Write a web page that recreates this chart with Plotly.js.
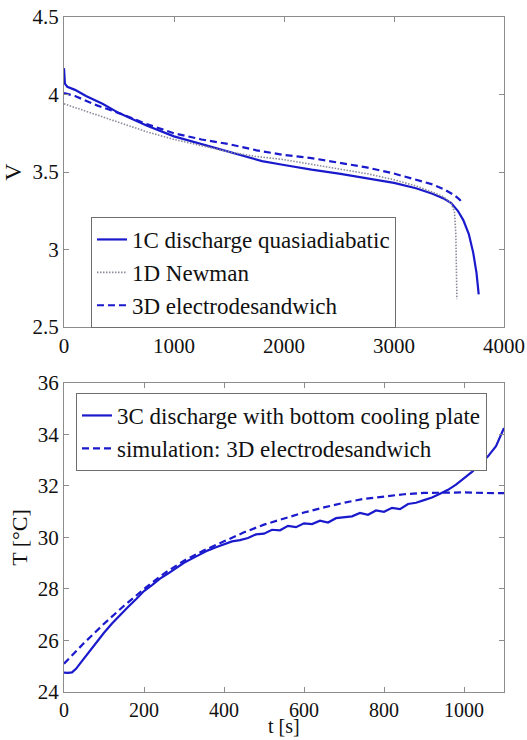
<!DOCTYPE html>
<html><head><meta charset="utf-8">
<script src="https://cdn.plot.ly/plotly-3.0.1.min.js"></script>
<style>
html,body{margin:0;padding:0;background:#fff}
#chart{width:527px;height:740px}
</style>
</head><body><div id="chart"></div>
<script>
// Top panel: voltage vs time (1C discharge)
const tExp1C = [0, 8, 30, 100, 200, 350, 500, 750, 1000, 1250, 1500, 1800, 2000, 2250, 2500, 2750, 3000, 3200, 3350, 3450, 3520, 3580, 3630, 3680, 3720, 3750, 3770];
const vExp1C = [4.17, 4.07, 4.05, 4.03, 3.99, 3.94, 3.88, 3.80, 3.73, 3.68, 3.63, 3.57, 3.545, 3.515, 3.49, 3.46, 3.43, 3.395, 3.36, 3.33, 3.30, 3.25, 3.19, 3.10, 2.98, 2.85, 2.71];
const tNewman = [0, 200, 500, 750, 1000, 1250, 1500, 1750, 2000, 2250, 2500, 2750, 3000, 3200, 3350, 3450, 3520, 3550, 3562, 3568, 3572];
const vNewman = [3.94, 3.89, 3.82, 3.76, 3.71, 3.67, 3.63, 3.60, 3.58, 3.55, 3.52, 3.49, 3.45, 3.41, 3.37, 3.34, 3.30, 3.24, 3.10, 2.90, 2.68];
const t3D1C = [0, 100, 300, 500, 750, 1000, 1250, 1500, 1750, 2000, 2250, 2500, 2750, 3000, 3200, 3350, 3450, 3550, 3600, 3620];
const v3D1C = [4.01, 3.99, 3.93, 3.88, 3.81, 3.75, 3.71, 3.68, 3.64, 3.61, 3.59, 3.56, 3.53, 3.49, 3.45, 3.42, 3.39, 3.35, 3.32, 3.29];

// Bottom panel: temperature vs time (3C discharge)
const tExp3C = [0,10,20,30,40,50,60,70,80,90,100,120,140,160,180,200,220,240,260,280,300,320,340,360,380,400,420,440,460,480,500,520,540,560,580,600,620,640,660,680,700,720,740,760,780,800,820,840,860,880,900,920,940,960,980,1000,1020,1040,1060,1080,1100];
const TExp3C = [24.75,24.74,24.76,24.9,25.1,25.3,25.5,25.72,25.92,26.12,26.3,26.66,27.0,27.3,27.6,27.92,28.15,28.4,28.6,28.82,29.02,29.18,29.35,29.5,29.62,29.72,29.85,29.9,29.98,30.12,30.15,30.3,30.28,30.45,30.4,30.55,30.52,30.65,30.58,30.75,30.78,30.82,30.95,30.88,31.05,31.0,31.15,31.1,31.3,31.35,31.45,31.55,31.7,31.85,32.05,32.3,32.55,32.85,33.15,33.55,34.25];
const tSim3C = [0,50,100,150,200,250,300,350,400,450,500,550,600,650,700,750,800,850,900,950,1000,1050,1100];
const TSim3C = [25.1,25.9,26.65,27.35,28.0,28.6,29.1,29.5,29.85,30.2,30.5,30.75,30.97,31.17,31.35,31.5,31.6,31.68,31.73,31.75,31.75,31.73,31.72];

const xTicksTop = [0, 1000, 2000, 3000, 4000];
const yTicksTop = [2.5, 3, 3.5, 4, 4.5];
const xTicksBot = [0, 200, 400, 600, 800, 1000];
const yTicksBot = [24, 26, 28, 30, 32, 34, 36];

const blue = '#1a1acc';
const SERIF = 'Liberation Serif';

function tf(size) { return {family: SERIF, size: size, color: '#111111'}; }

const traces = [
  {x: tExp1C, y: vExp1C, mode: 'lines', name: '1C discharge quasiadiabatic', line: {color: blue, width: 2.2}, xaxis: 'x', yaxis: 'y', legend: 'legend'},
  {x: tNewman, y: vNewman, mode: 'lines', name: '1D Newman', line: {color: '#8a8a9a', width: 1.6, dash: '1.5px,1.5px'}, xaxis: 'x', yaxis: 'y', legend: 'legend'},
  {x: t3D1C, y: v3D1C, mode: 'lines', name: '3D electrodesandwich', line: {color: blue, width: 2.2, dash: '7px,4px'}, xaxis: 'x', yaxis: 'y', legend: 'legend'},
  {x: tExp3C, y: TExp3C, mode: 'lines', name: '3C discharge with bottom cooling plate', line: {color: blue, width: 2.2}, xaxis: 'x2', yaxis: 'y2', legend: 'legend2'},
  {x: tSim3C, y: TSim3C, mode: 'lines', name: 'simulation: 3D electrodesandwich', line: {color: blue, width: 2.2, dash: '7px,4px'}, xaxis: 'x2', yaxis: 'y2', legend: 'legend2'}
];

function axis(extra) {
  return Object.assign({
    showgrid: false, zeroline: false, showline: true, linecolor: '#8c8c8c', linewidth: 1,
    mirror: 'ticks', ticks: 'inside', ticklen: 5, tickcolor: '#8c8c8c',
    tickfont: tf(21)
  }, extra);
}

const layout = {
  width: 527, height: 740,
  margin: {l: 64, r: 23, t: 17, b: 48},
  paper_bgcolor: '#fff', plot_bgcolor: '#fff',
  font: tf(16),
  showlegend: true,
  xaxis: axis({domain: [0, 1], range: [0, 4000], tickvals: xTicksTop, anchor: 'y'}),
  yaxis: axis({domain: [0.5407, 1], range: [2.5, 4.5], tickvals: yTicksTop, anchor: 'x',
    title: {text: 'V', font: tf(24), standoff: 6}}),
  xaxis2: axis({domain: [0, 1], range: [0, 1100], tickvals: xTicksBot, anchor: 'y2', tickfont: tf(20)}),
  yaxis2: axis({domain: [0, 0.4578], range: [24, 36], tickvals: yTicksBot, anchor: 'x2',
    title: {text: 'T [°C]', font: tf(22), standoff: 4}}),
  annotations: [{text: 't [s]', xref: 'x2 domain', yref: 'paper', x: 0.5, y: 0, xanchor: 'center', yanchor: 'bottom',
    yshift: -47, showarrow: false, font: tf(20)}],
  legend: {xanchor: 'left', yanchor: 'top', xref: 'paper', yref: 'paper',
    bgcolor: '#fff', bordercolor: '#6e6e6e', borderwidth: 1,
    font: tf(23), tracegroupgap: 0, itemwidth: 30},
  legend2: {xanchor: 'left', yanchor: 'top', xref: 'paper', yref: 'paper',
    bgcolor: '#fff', bordercolor: '#6e6e6e', borderwidth: 1,
    font: tf(23), tracegroupgap: 0, itemwidth: 30}
};
layout.legend.y = (692 - 217) / 675;
layout.legend.x = (91 - 64) / 440;
layout.legend2.y = (692 - 393) / 675;
layout.legend2.x = (76 - 64) / 440;

Plotly.newPlot('chart', traces, layout, {displayModeBar: false, staticPlot: true});
</script>
</body></html>
